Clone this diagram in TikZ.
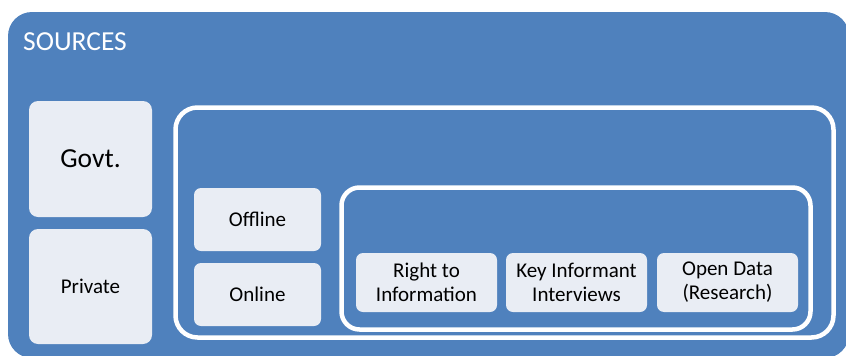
\documentclass[tikz,border=0pt]{standalone}
\usepackage{fontspec}
\setmainfont{Carlito}
\definecolor{outerblue}{RGB}{79,129,189}
\definecolor{lightbox}{RGB}{233,237,244}
\tikzset{
  card/.style={fill=lightbox, draw=none, rounded corners=7pt, inner sep=0pt, align=center,
    font=\fontsize{21}{24}\selectfont, text=black},
  frame/.style={draw=white, line width=4.5pt},
}
\begin{document}
\begin{tikzpicture}[x=1pt,y=-1pt]
\useasboundingbox (0,0) rectangle (846,356);
\clip (0,0) rectangle (846,356);
\fill[outerblue, rounded corners=24pt] (8,12) rectangle (849,358);
\node[anchor=base west, text=white, font=\fontsize{27.5}{32}\selectfont, inner sep=0pt] (title) at (23,50.5) {SOURCES};
% frames
\draw[frame, rounded corners=22pt] (175.5,107.5) rectangle (833.5,337.5);
\draw[frame, rounded corners=18pt] (341.5,187.5) rectangle (810.5,329.5);
% cards
\node[card, minimum width=123pt, minimum height=116pt, rounded corners=9pt, font=\fontsize{27.5}{32}\selectfont] (govt) at (90.5,159) {Govt.};
\node[card, minimum width=123pt, minimum height=115pt, rounded corners=9pt] (private) at (90.5,286.5) {Private};
\node[card, minimum width=127pt, minimum height=63pt] (offline) at (257.5,219.5) {Offline};
\node[card, minimum width=127pt, minimum height=63pt] (online) at (257.5,294.5) {Online};
\node[card, minimum width=141pt, minimum height=59pt] (rti) at (426.5,282.5) {Right to\\Information};
\node[card, minimum width=141pt, minimum height=59pt] (kii) at (576.5,282.5) {Key Informant\\Interviews};
\node[card, minimum width=141pt, minimum height=59pt] (od) at (727.5,282.5) {Open Data\\(Research)};
\end{tikzpicture}
\end{document}
